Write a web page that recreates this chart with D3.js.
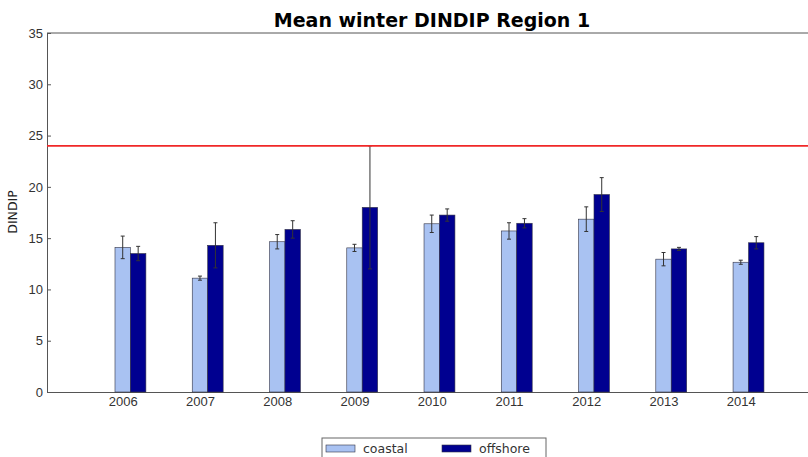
<!DOCTYPE html>
<html>
<head>
<meta charset="utf-8">
<script src="https://cdn.jsdelivr.net/npm/d3@7"></script>
<style>
  body { margin: 0; background: #fff; }
  svg { font-family: "DejaVu Sans", sans-serif; }
  .tick text { fill: #333; font-size: 13px; }
</style>
</head>
<body>
<script>
// data
var years = ['2006', '2007', '2008', '2009', '2010', '2011', '2012', '2013', '2014'];
var coastal = [14.1, 11.1, 14.65, 14.05, 16.4, 15.7, 16.85, 12.95, 12.65];
var coastalErr = [1.1, 0.2, 0.7, 0.35, 0.85, 0.8, 1.2, 0.65, 0.2];
var offshore = [13.5, 14.3, 15.85, 18.0, 17.25, 16.45, 19.25, 13.95, 14.55];
var offshoreErr = [0.7, 2.2, 0.85, 6.0, 0.6, 0.45, 1.65, 0.15, 0.6];
var yTicks = [0, 5, 10, 15, 20, 25, 30, 35];
var refLine = 24;

var W = 808, H = 457;
var plotLeft = 47, plotTop = 33, plotBottom = 392;

var svg = d3.select('body').append('svg')
  .attr('width', W)
  .attr('height', H);

// index based x scale, bar width 0.2
var x = d3.scaleLinear().domain([-0.88, 8.97]).range([plotLeft, W]);
var y = d3.scaleLinear().domain([0, 35]).range([plotBottom, plotTop]);
var bw = 0.2;

// title
svg.append('text')
  .attr('x', 432).attr('y', 27)
  .attr('text-anchor', 'middle')
  .style('font-weight', 'bold')
  .style('font-size', '19px')
  .text('Mean winter DINDIP Region 1');

// y label
svg.append('text')
  .attr('transform', 'translate(17,212) rotate(-90)')
  .attr('text-anchor', 'middle')
  .style('font-size', '12.5px')
  .style('fill', '#222')
  .text('DINDIP');

// top spine
svg.append('line').attr('x1', plotLeft).attr('x2', W).attr('y1', plotTop).attr('y2', plotTop)
  .attr('stroke', '#555').attr('stroke-width', 1);

var yAxis = d3.axisLeft(y).tickValues(yTicks).tickSizeInner(-4).tickSizeOuter(0).tickPadding(4);
svg.append('g')
  .attr('transform', 'translate(' + plotLeft + ',0)')
  .call(yAxis)
  .call(g => g.select('.domain').attr('stroke', '#555'))
  .call(g => g.selectAll('.tick line').attr('stroke', '#555'));

var xAxis = d3.axisBottom(x)
  .tickValues(d3.range(years.length).map(i => i + bw / 2))
  .tickFormat((d, i) => years[i])
  .tickSizeInner(-4).tickSizeOuter(0).tickPadding(5);
svg.append('g')
  .attr('transform', 'translate(0,' + plotBottom + ')')
  .call(xAxis)
  .call(g => g.select('.domain').attr('stroke', '#555'))
  .call(g => g.selectAll('.tick line').attr('stroke', '#555'));

// bars
var series = [
  { vals: coastal, err: coastalErr, off: 0, color: '#a9c2f2' },
  { vals: offshore, err: offshoreErr, off: bw, color: '#000090' }
];

series.forEach(s => {
  svg.append('g').selectAll('rect')
    .data(s.vals)
    .enter().append('rect')
    .attr('x', (d, i) => x(i + s.off))
    .attr('y', d => y(d))
    .attr('width', x(bw) - x(0))
    .attr('height', d => y(0) - y(d))
    .attr('fill', s.color)
    .attr('stroke', '#334')
    .attr('stroke-width', 0.6);

  var eg = svg.append('g').selectAll('g')
    .data(s.vals)
    .enter().append('g');
  var cx = (d, i) => x(i + s.off + bw / 2);
  eg.append('line')
    .attr('x1', cx).attr('x2', cx)
    .attr('y1', (d, i) => y(d - s.err[i]))
    .attr('y2', (d, i) => y(d + s.err[i]))
    .attr('stroke', '#333').attr('stroke-width', 1);
  [-1, 1].forEach(sg => {
    eg.append('line')
      .attr('x1', (d, i) => cx(d, i) - 2).attr('x2', (d, i) => cx(d, i) + 2)
      .attr('y1', (d, i) => y(d + sg * s.err[i]))
      .attr('y2', (d, i) => y(d + sg * s.err[i]))
      .attr('stroke', '#333').attr('stroke-width', 1);
  });
});

// reference line
svg.append('line')
  .attr('x1', plotLeft).attr('x2', W)
  .attr('y1', y(refLine)).attr('y2', y(refLine))
  .attr('stroke', '#f02828').attr('stroke-width', 1.6);

// legend
var lg = svg.append('g').attr('transform', 'translate(322,438)');
lg.append('rect').attr('width', 224).attr('height', 25)
  .attr('fill', '#fff').attr('stroke', '#666').attr('stroke-width', 1);
var items = [
  { name: 'coastal', color: series[0].color, x: 4 },
  { name: 'offshore', color: series[1].color, x: 120 }
];
items.forEach(it => {
  lg.append('rect').attr('x', it.x).attr('y', 7).attr('width', 29).attr('height', 7)
    .attr('fill', it.color).attr('stroke', '#334').attr('stroke-width', 0.6);
  lg.append('text').attr('x', it.x + 37).attr('y', 15)
    .style('font-size', '12.5px').style('fill', '#333')
    .text(it.name);
});
</script>
</body>
</html>
